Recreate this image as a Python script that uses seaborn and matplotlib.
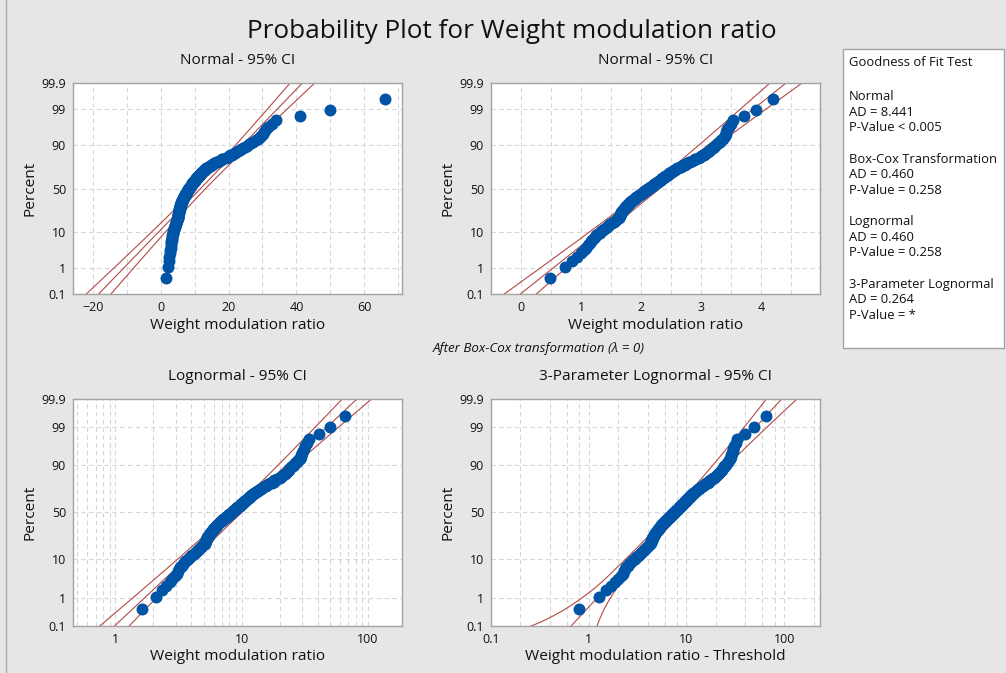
import numpy as np
import matplotlib
matplotlib.use("Agg")
import matplotlib.pyplot as plt
import seaborn as sns
from statistics import NormalDist
from matplotlib.lines import Line2D
from matplotlib.patches import Rectangle
from matplotlib.ticker import FixedLocator, NullFormatter

# ---- data -------------------------------------------------------------
weight_ratio = [
    1.62, 2.08, 2.34, 2.53, 2.69, 2.83, 2.95, 3.05, 3.12, 3.19,
    3.25, 3.34, 3.41, 3.48, 3.58, 3.69, 3.79, 3.89, 3.99, 4.08,
    4.16, 4.24, 4.33, 4.41, 4.50, 4.58, 4.68, 4.77, 4.86, 4.95,
    5.04, 5.08, 5.12, 5.15, 5.18, 5.22, 5.25, 5.28, 5.31, 5.34,
    5.38, 5.44, 5.49, 5.53, 5.58, 5.63, 5.68, 5.73, 5.78, 5.82,
    5.88, 5.94, 6.01, 6.07, 6.15, 6.22, 6.28, 6.35, 6.42, 6.49,
    6.55, 6.63, 6.70, 6.79, 6.87, 6.96, 7.05, 7.14, 7.23, 7.32,
    7.41, 7.51, 7.60, 7.70, 7.79, 7.89, 7.98, 8.08, 8.18, 8.29,
    8.40, 8.49, 8.60, 8.71, 8.81, 8.93, 9.04, 9.15, 9.26, 9.38,
    9.50, 9.62, 9.75, 9.87, 9.99, 10.11, 10.26, 10.39, 10.52, 10.64,
    10.78, 10.91, 11.06, 11.20, 11.35, 11.50, 11.65, 11.79, 11.94, 12.11,
    12.28, 12.49, 12.72, 12.96, 13.22, 13.46, 13.73, 14.01, 14.28, 14.58,
    14.89, 15.21, 15.52, 15.86, 16.31, 16.78, 17.30, 17.90, 18.00, 18.10,
    19.20, 19.75, 20.14, 20.53, 20.95, 21.39, 21.84, 22.33, 22.83, 23.36,
    23.81, 24.29, 24.80, 25.36, 25.96, 26.58, 27.25, 27.99, 28.81, 29.31,
    29.70, 30.12, 30.57, 31.12, 31.78, 32.79, 34.05, 41.0, 50.0, 66.0,
]
threshold = 0.82            # 3-parameter lognormal threshold
threshold_sd = 0.31         # std. error of the threshold estimate
threshold_pinch = 1.99      # scale where threshold uncertainty cancels out

percent_ticks = [0.1, 1, 10, 50, 90, 99, 99.9]
percent_labels = ["0.1", "1", "10", "50", "90", "99", "99.9"]

panel_titles = ["Normal - 95% CI", "Normal - 95% CI",
                "Lognormal - 95% CI", "3-Parameter Lognormal - 95% CI"]
panel_xlabels = ["Weight modulation ratio", "Weight modulation ratio",
                 "Weight modulation ratio", "Weight modulation ratio - Threshold"]

gof_lines = [
    ("Goodness of Fit Test", 62.0),
    ("Normal", 0), ("AD = 8.441", 1), ("P-Value < 0.005", 2),
    ("Box-Cox Transformation", 4), ("AD = 0.460", 5), ("P-Value = 0.258", 6),
    ("Lognormal", 8), ("AD = 0.460", 9), ("P-Value = 0.258", 10),
    ("3-Parameter Lognormal", 12), ("AD = 0.264", 13), ("P-Value = *", 14),
]

# ---- style ------------------------------------------------------------
sns.set_style("white")
plt.rcParams["font.family"] = ["Open Sans", "DejaVu Sans"]
BG = "#e6e6e6"
BLUE = "#0054a6"
RED = "#b24a46"
GRID = "#d6d6d6"
SPINE = "#a3a3a3"
TXT = "#111111"

W, H = 1006, 673
fig = plt.figure(figsize=(W / 100, H / 100), dpi=100, facecolor=BG)


def rect(l, t, r, b):
    return [l / W, 1 - b / H, (r - l) / W, (b - t) / H]


def fx(px):
    return px / W


def fy(py):
    return 1 - py / H


nd = NormalDist()
ppf = np.vectorize(nd.inv_cdf)

x = np.sort(np.asarray(weight_ratio, dtype=float))
n = len(x)
prob = (np.arange(1, n + 1) - 0.3) / (n + 0.4)
zq = ppf(prob)
z_fit = np.linspace(-3.5, 3.5, 500)
ylim = (nd.inv_cdf(0.001), nd.inv_cdf(0.999))


def normal_band(mu, sd):
    center = mu + z_fit * sd
    half = 1.96 * sd * np.sqrt((1 + z_fit ** 2 / 2) / n)
    return center - half, center, center + half


def style_axes(ax):
    ax.set_facecolor("white")
    ax.set_ylim(*ylim)
    ax.set_yticks(ppf(np.array(percent_ticks) / 100))
    ax.set_yticklabels(percent_labels)
    for s in ax.spines.values():
        s.set_color(SPINE)
        s.set_linewidth(1.0)
    ax.grid(True, which="both", axis="x", color=GRID, linestyle=(0, (4, 3)), linewidth=0.8)
    ax.grid(True, which="major", axis="y", color=GRID, linestyle=(0, (4, 3)), linewidth=0.8)
    ax.set_axisbelow(True)
    ax.tick_params(which="major", length=3, width=0.8, color=SPINE, pad=2,
                   labelsize=9, labelcolor=TXT)
    ax.tick_params(which="minor", length=0)
    ax.set_xlabel("")
    ax.set_ylabel("")


def draw_points(ax, xv):
    sns.scatterplot(x=xv, y=zq, ax=ax, color=BLUE, s=74, linewidth=0, zorder=3)


def draw_band(ax, lo, c, hi):
    for line in (lo, c, hi):
        ax.plot(line, z_fit, color=RED, lw=0.8, zorder=2)


ax1 = fig.add_axes(rect(73, 83, 402, 294))
ax2 = fig.add_axes(rect(491, 83, 820, 294))
ax3 = fig.add_axes(rect(73, 398.5, 402, 626))
ax4 = fig.add_axes(rect(491, 398.5, 820, 626))

# Normal
draw_band(ax1, *normal_band(x.mean(), x.std(ddof=1)))
draw_points(ax1, x)
style_axes(ax1)
ax1.set_xlim(-25.8, 71.1)
ax1.set_xticks([-20, 0, 20, 40, 60])
ax1.xaxis.set_minor_locator(FixedLocator([-10, 10, 30, 50, 70]))

# Normal after Box-Cox (lambda = 0)
lx = np.log(x)
lo2, c2, hi2 = normal_band(lx.mean(), lx.std(ddof=1))
draw_band(ax2, lo2, c2, hi2)
draw_points(ax2, lx)
style_axes(ax2)
ax2.set_xlim(-0.505, 4.98)
ax2.set_xticks([0, 1, 2, 3, 4])
ax2.xaxis.set_minor_locator(FixedLocator([-0.5, 0.5, 1.5, 2.5, 3.5, 4.5]))

# Lognormal
ax3.set_xscale("log")
draw_band(ax3, np.exp(lo2), np.exp(c2), np.exp(hi2))
draw_points(ax3, x)
style_axes(ax3)
ax3.set_xlim(0.462, 186)
ax3.set_xticks([1, 10, 100])
ax3.set_xticklabels(["1", "10", "100"])
minor3 = [m * d for d in (0.1, 1, 10) for m in range(2, 10) if 0.462 < m * d < 186]
ax3.xaxis.set_minor_locator(FixedLocator(minor3))
ax3.xaxis.set_minor_formatter(NullFormatter())

# 3-parameter lognormal
shifted = x - threshold
l3 = np.log(shifted)
mu3, s3 = l3.mean(), l3.std(ddof=1)
e = np.exp(mu3 + z_fit * s3)
xp = threshold + e
var_t = (threshold_sd * np.clip(1 - e / threshold_pinch, 0, None)) ** 2
var_e = e ** 2 * (s3 ** 2 / n) * (1 + z_fit ** 2 / 2) * (1 + 0.048 * z_fit ** 2)
se = np.sqrt(var_t + var_e)
w = 1.96 * se / xp
lo4 = xp * np.exp(-w) - threshold
hi4 = xp * np.exp(w) - threshold
lo4 = np.where(lo4 > 0, lo4, np.nan)
ax4.set_xscale("log")
draw_band(ax4, lo4, e, hi4)
draw_points(ax4, shifted)
style_axes(ax4)
ax4.set_xlim(0.1, 233)
ax4.set_xticks([0.1, 1, 10, 100])
ax4.set_xticklabels(["0.1", "1", "10", "100"])
ax4.xaxis.set_minor_locator(FixedLocator([0.2, 0.4, 0.6, 0.8, 2, 4, 6, 8, 20, 40, 60, 80, 200]))
ax4.xaxis.set_minor_formatter(NullFormatter())

# ---- text -------------------------------------------------------------
fig.text(fx(512), fy(32), "Probability Plot for Weight modulation ratio",
         ha="center", va="center", fontsize=18.8, color=TXT)

panels = [(ax1, 73, 402, 60.7, 325, 30, 188.5),
          (ax2, 491, 820, 60.7, 325, 448, 188.5),
          (ax3, 73, 402, 376.7, 656, 30, 512),
          (ax4, 491, 820, 376.7, 656, 448, 512)]
for (ax, l, r, ty, xly, ylx, yly), title, xlab in zip(panels, panel_titles, panel_xlabels):
    cx = (l + r) / 2
    fig.text(fx(cx), fy(ty), title, ha="center", va="center", fontsize=11.1, color=TXT)
    fig.text(fx(cx), fy(xly), xlab, ha="center", va="center", fontsize=11.1, color=TXT)
    fig.text(fx(ylx), fy(yly), "Percent", ha="center", va="center", rotation=90,
             fontsize=11.1, color=TXT)

fig.text(fx(539), fy(348), "After Box-Cox transformation (\u03bb = 0)",
         ha="center", va="center", fontsize=9.6, style="italic", color=TXT)

# goodness-of-fit box
fig.add_artist(Rectangle((fx(842.5), fy(348)), (1004 - 842.5) / W, (348 - 48.5) / H,
                         transform=fig.transFigure, facecolor="white",
                         edgecolor=SPINE, linewidth=1.0))
for i, (txt, pos) in enumerate(gof_lines):
    ypx = pos if i == 0 else 96.5 + pos * 15.65
    fig.text(fx(849), fy(ypx), txt, ha="left", va="center", fontsize=9.4, color=TXT)

# panel frame line on the left
fig.add_artist(Line2D([fx(6), fx(6)], [0, 1], transform=fig.transFigure,
                      color="#a8a8a8", linewidth=1.0))

fig.savefig("out.png", dpi=100, facecolor=BG)
